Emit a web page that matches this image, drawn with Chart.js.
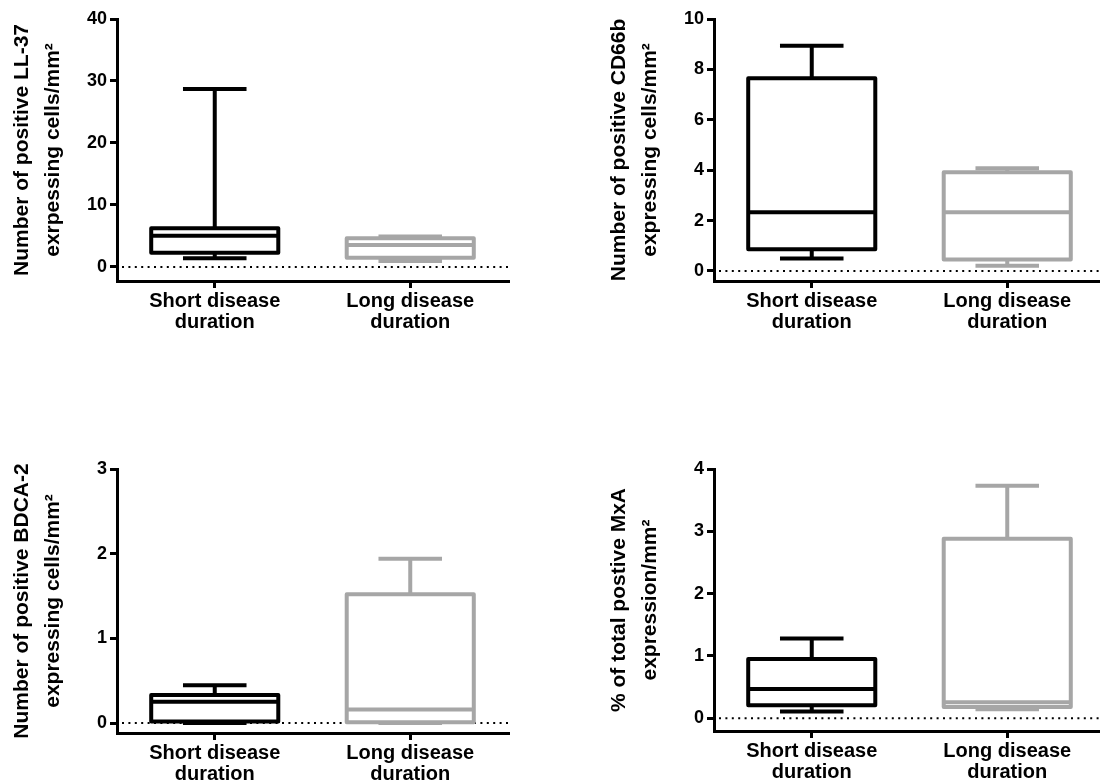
<!DOCTYPE html>
<html>
<head>
<meta charset="utf-8">
<script src="https://cdn.jsdelivr.net/npm/chart.js@4.4.0/dist/chart.umd.min.js"></script>
<style>
  html, body { margin: 0; padding: 0; background: #fff; width: 1100px; height: 784px; overflow: hidden; }
  canvas { position: absolute; }
</style>
</head>
<body>
<canvas id="panelLL37" width="530" height="350" style="left:0px;top:0px"></canvas>
<canvas id="panelCD66b" width="530" height="350" style="left:597px;top:0px"></canvas>
<canvas id="panelBDCA2" width="530" height="350" style="left:0px;top:450px"></canvas>
<canvas id="panelMxA" width="530" height="350" style="left:597px;top:450px"></canvas>
<script>
/* ===============================
   DATOS (min, Q1, mediana, Q3, max)
=============================== */
const categories = [["Short disease", "duration"], ["Long disease", "duration"]];
const groupColors = ["#000000", "#a6a6a6"];

const ll37Short = [1.4, 2.3, 5.05, 6.25, 28.7];
const ll37Long = [0.97, 1.5, 3.55, 4.65, 4.9];
const ll37Ticks = [0, 10, 20, 30, 40];

const cd66bShort = [0.5, 0.86, 2.33, 7.65, 8.94];
const cd66bLong = [0.21, 0.46, 2.33, 3.92, 4.08];
const cd66bTicks = [0, 2, 4, 6, 8, 10];

const bdca2Short = [0, 0, 0.25, 0.33, 0.445];
const bdca2Long = [0, 0.01, 0.16, 1.52, 1.94];
const bdca2Ticks = [0, 1, 2, 3];

const mxaShort = [0.107, 0.21, 0.47, 0.95, 1.28];
const mxaLong = [0.145, 0.18, 0.257, 2.88, 3.73];
const mxaTicks = [0, 1, 2, 3, 4];

Chart.defaults.font.family = "Arial, 'Liberation Sans', sans-serif";
Chart.defaults.color = "#000";

/* ===============================
   PLUGIN BOXPLOT (caja, bigotes, mediana)
=============================== */
function boxPlugin(stats) {
  return {
    id: "boxPlot",
    beforeDatasetsDraw(chart) {
      const { ctx, chartArea, scales: { y } } = chart;
      const y0 = y.getPixelForValue(0);
      ctx.save();
      ctx.setLineDash([2, 4.4]);
      ctx.lineWidth = 2;
      ctx.strokeStyle = "#000";
      ctx.beginPath();
      ctx.moveTo(chartArea.left + 5, y0);
      ctx.lineTo(chartArea.right, y0);
      ctx.stroke();
      ctx.setLineDash([]);
      ctx.lineWidth = 4;
      chart.getDatasetMeta(0).data.forEach((bar, i) => {
        const s = stats[i];
        const half = bar.width * 0.25;
        const yMin = y.getPixelForValue(s[0]);
        const yQ1 = y.getPixelForValue(s[1]);
        const yQ3 = y.getPixelForValue(s[3]);
        const yMax = y.getPixelForValue(s[4]);
        ctx.strokeStyle = groupColors[i];
        ctx.beginPath();
        ctx.moveTo(bar.x, yQ3); ctx.lineTo(bar.x, yMax);
        ctx.moveTo(bar.x - half, yMax); ctx.lineTo(bar.x + half, yMax);
        ctx.moveTo(bar.x, yQ1); ctx.lineTo(bar.x, yMin);
        ctx.moveTo(bar.x - half, yMin); ctx.lineTo(bar.x + half, yMin);
        ctx.stroke();
      });
      ctx.restore();
    },
    afterDatasetsDraw(chart) {
      const { ctx, scales: { y } } = chart;
      ctx.save();
      ctx.lineWidth = 4;
      ctx.lineJoin = "round";
      chart.getDatasetMeta(0).data.forEach((bar, i) => {
        const left = bar.x - bar.width / 2;
        const top = Math.min(bar.y, bar.base);
        const h = Math.abs(bar.base - bar.y);
        const ym = y.getPixelForValue(stats[i][2]);
        ctx.strokeStyle = groupColors[i];
        ctx.strokeRect(left, top, bar.width, h);
        ctx.beginPath();
        ctx.moveTo(left, ym);
        ctx.lineTo(left + bar.width, ym);
        ctx.stroke();
      });
      ctx.restore();
    }
  };
}

/* ===============================
   PANEL
=============================== */
function crearPanel(id, shortStats, longStats, ticks, yMin, titulo, xHeight) {
  const stats = [shortStats, longStats];
  new Chart(document.getElementById(id), {
    type: "bar",
    data: {
      labels: categories,
      datasets: [{
        data: stats.map(s => [s[1], s[3]]),
        backgroundColor: "#ffffff",
        borderWidth: 0,
        barPercentage: 0.65,
        categoryPercentage: 1
      }]
    },
    options: {
      responsive: false,
      animation: false,
      devicePixelRatio: 1,
      layout: { padding: { top: 19, right: 22, left: 0, bottom: 0 } },
      plugins: { legend: { display: false }, tooltip: { enabled: false } },
      scales: {
        x: {
          offset: true,
          grid: { display: true, drawOnChartArea: false, offset: false, tickLength: 7, lineWidth: 3, color: "#000" },
          border: { display: true, color: "#000", width: 3 },
          ticks: { font: { size: 20, weight: "bold", lineHeight: 1.05 }, padding: 3, color: "#000", maxRotation: 0 },
          afterFit: s => { s.height = xHeight; }
        },
        y: {
          min: yMin,
          max: ticks[ticks.length - 1],
          afterBuildTicks: s => { s.ticks = ticks.map(v => ({ value: v })); },
          grid: { display: true, drawOnChartArea: false, tickLength: 7, lineWidth: 3, color: "#000" },
          border: { display: true, color: "#000", width: 3 },
          ticks: { font: { size: 18, weight: "bold" }, padding: 3, color: "#000" },
          title: {
            display: true,
            text: titulo,
            font: { size: 21, weight: "bold", lineHeight: 1.5 },
            padding: { top: 6, bottom: 0 },
            color: "#000"
          },
          afterFit: s => { s.width = 117; }
        }
      }
    },
    plugins: [boxPlugin(stats)]
  });
}

crearPanel("panelLL37", ll37Short, ll37Long, ll37Ticks, -2.26,
  ["Number of positive LL-37", "exrpessing cells/mm²"], 69);
crearPanel("panelCD66b", cd66bShort, cd66bLong, cd66bTicks, -0.397,
  ["Number of positive CD66b", "expressing cells/mm²"], 69);
crearPanel("panelBDCA2", bdca2Short, bdca2Long, bdca2Ticks, -0.118,
  ["Number of positive BDCA-2", "expressing cells/mm²"], 67);
crearPanel("panelMxA", mxaShort, mxaLong, mxaTicks, -0.204,
  ["% of total postive MxA", "expression/mm²"], 69);
</script>
</body>
</html>
